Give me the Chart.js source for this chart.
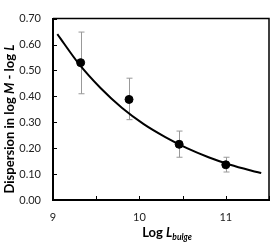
<!DOCTYPE html>
<html>
<head>
<meta charset="utf-8">
<script src="https://cdn.jsdelivr.net/npm/chart.js@4"></script>
<style>
  body { margin: 0; background: #fff; }
  #wrap { width: 280px; height: 242px; }
</style>
</head>
<body>
<div id="wrap"><canvas id="dispChart"></canvas></div>
<script>
// measured points with error bars
const logL = [9.32, 9.88, 10.46, 11.0];
const dispersion = [0.53, 0.388, 0.215, 0.136];
const errTop = [0.648, 0.47, 0.266, 0.165];
const errBottom = [0.41, 0.31, 0.165, 0.108];

// fitted curve
const fitX = [9.05, 9.3, 9.55, 9.8, 10.05, 10.3, 10.55, 10.8, 11.05, 11.3, 11.41];
const fitY = [0.640, 0.525, 0.432, 0.355, 0.293, 0.243, 0.200, 0.165, 0.136, 0.113, 0.104];

const FONT = 'Lato, "Open Sans", sans-serif';

// error bars
const errorBars = {
    id: 'errorBars',
    beforeDatasetsDraw(chart) {
        const ctx = chart.ctx;
        const xs = chart.scales.x, ys = chart.scales.y;
        ctx.save();
        ctx.strokeStyle = '#999';
        ctx.lineWidth = 1;
        logL.forEach((v, i) => {
            const x = Math.round(xs.getPixelForValue(v)) + 0.5;
            const y1 = ys.getPixelForValue(errTop[i]);
            const y2 = ys.getPixelForValue(errBottom[i]);
            ctx.beginPath();
            ctx.moveTo(x, y1); ctx.lineTo(x, y2);
            ctx.moveTo(x - 3, y1); ctx.lineTo(x + 3, y1);
            ctx.moveTo(x - 3, y2); ctx.lineTo(x + 3, y2);
            ctx.stroke();
        });
        ctx.restore();
    }
};

// frame, inward ticks and axis titles
const frame = {
    id: 'frame',
    afterDraw(chart) {
        const ctx = chart.ctx;
        const a = chart.chartArea;
        const xs = chart.scales.x, ys = chart.scales.y;
        ctx.save();
        ctx.strokeStyle = '#000';
        ctx.lineWidth = 1.5;
        ctx.beginPath();
        ctx.moveTo(a.left, a.top); ctx.lineTo(a.right, a.top); ctx.lineTo(a.right, a.bottom);
        ctx.stroke();
        ctx.lineWidth = 1;
        ctx.beginPath();
        ys.ticks.forEach(t => {
            const y = Math.round(ys.getPixelForValue(t.value)) + 0.5;
            ctx.moveTo(a.left, y); ctx.lineTo(a.left + 4, y);
        });
        xs.ticks.forEach(t => {
            const x = Math.round(xs.getPixelForValue(t.value)) + 0.5;
            ctx.moveTo(x, a.bottom); ctx.lineTo(x, a.bottom - 4);
        });
        ctx.stroke();

        ctx.fillStyle = '#000';
        ctx.textBaseline = 'alphabetic';
        // x title: Log L_bulge
        const parts = [
            ['Log ', 'bold 13px ' + FONT, 0],
            ['L', 'italic bold 13px ' + FONT, 0],
            ['bulge', 'italic bold 8.5px ' + FONT, 3]
        ];
        let w = 0;
        parts.forEach(p => { ctx.font = p[1]; w += ctx.measureText(p[0]).width; });
        let x = 167 - w / 2;
        parts.forEach(p => {
            ctx.font = p[1];
            ctx.fillText(p[0], x, 237 + p[2]);
            x += ctx.measureText(p[0]).width;
        });

        // y title
        const yparts = [
            ['Dispersion in log ', 'bold 13px ' + FONT],
            ['M', 'italic bold 13px ' + FONT],
            [' - log ', 'bold 13px ' + FONT],
            ['L', 'italic bold 13px ' + FONT]
        ];
        w = 0;
        yparts.forEach(p => { ctx.font = p[1]; w += ctx.measureText(p[0]).width; });
        ctx.translate(14, 119);
        ctx.rotate(-Math.PI / 2);
        x = -w / 2;
        yparts.forEach(p => {
            ctx.font = p[1];
            ctx.fillText(p[0], x, 0);
            x += ctx.measureText(p[0]).width;
        });
        ctx.restore();
    }
};

new Chart(document.getElementById('dispChart'), {
    type: 'scatter',
    data: {
        datasets: [{
            label: 'Fit',
            data: fitX.map((v, i) => ({ x: v, y: fitY[i] })),
            showLine: true,
            borderColor: '#000',
            borderWidth: 2,
            pointRadius: 0,
            cubicInterpolationMode: 'monotone',
            fill: false
        }, {
            label: 'Data',
            data: logL.map((v, i) => ({ x: v, y: dispersion[i] })),
            backgroundColor: '#000',
            borderColor: '#000',
            pointRadius: 4,
            showLine: false
        }]
    },
    options: {
        responsive: true,
        maintainAspectRatio: false,
        animation: false,
        layout: { padding: { top: 5, right: 2, left: 0, bottom: 0 } },
        plugins: { legend: { display: false }, tooltip: { enabled: false } },
        scales: {
            x: {
                type: 'linear',
                min: 9,
                max: 11.5,
                grid: { display: false, drawTicks: false },
                border: { display: true, color: '#000', width: 2 },
                ticks: {
                    stepSize: 0.5,
                    padding: 11,
                    color: '#222',
                    font: { family: FONT, size: 11 },
                    maxRotation: 0,
                    autoSkip: false,
                    callback: v => Number.isInteger(v) && v < 11.5 ? String(v) : ''
                },
                afterFit: s => { s.height = 42; }
            },
            y: {
                min: 0,
                max: 0.7,
                grid: { display: false, drawTicks: false },
                border: { display: true, color: '#000', width: 2 },
                ticks: {
                    stepSize: 0.1,
                    padding: 12,
                    color: '#222',
                    font: { family: FONT, size: 11 },
                    callback: v => v.toFixed(2)
                },
                afterFit: s => { s.width = 53; }
            }
        }
    },
    plugins: [errorBars, frame]
});
</script>
</body>
</html>
